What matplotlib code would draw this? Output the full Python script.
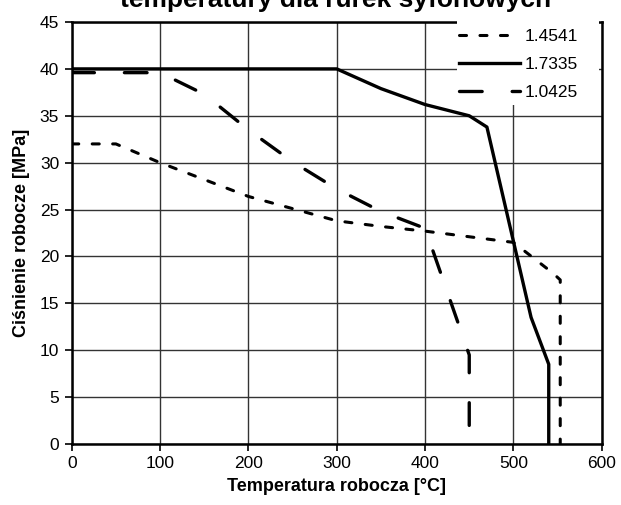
import matplotlib
matplotlib.use("Agg")
import matplotlib.pyplot as plt
from matplotlib.patches import Rectangle

plt.rcParams['font.family'] = ['Liberation Sans', 'DejaVu Sans']

# Data
temp_14541 = [0, 50, 100, 150, 200, 250, 300, 350, 400, 450, 500, 545, 553, 553]
p_14541 = [32, 32, 30, 28.2, 26.4, 25.1, 23.8, 23.2, 22.7, 22.1, 21.5, 18.2, 17.5, 0]

temp_17335 = [0, 300, 350, 400, 450, 470, 520, 540, 540]
p_17335 = [40, 40, 37.9, 36.2, 35, 33.8, 13.5, 8.5, 0]

temp_10425 = [0, 100, 150, 200, 250, 300, 350, 400, 450, 450]
p_10425 = [39.6, 39.6, 37.3, 33.5, 30.1, 27.2, 24.8, 23, 9.5, 0]

x_ticks = [0, 100, 200, 300, 400, 500, 600]
y_ticks = [0, 5, 10, 15, 20, 25, 30, 35, 40, 45]

fig = plt.figure(figsize=(6.21, 5.05), dpi=100)
ax = fig.add_axes([0.1155, 0.1208, 0.8535, 0.8356])

lw = 2.2
ax.plot(temp_14541, p_14541, color='black', lw=lw, dashes=(2.3, 4.4),
        dash_capstyle='round', label='1.4541')
ax.plot(temp_17335, p_17335, color='black', lw=lw + 0.2, label='1.7335')
ax.plot(temp_10425, p_10425, color='black', lw=lw + 0.2, dashes=(6.8, 9.0),
        dash_capstyle='round', label='1.0425')

ax.set_xlim(0, 600)
ax.set_ylim(0, 45)
ax.set_xticks(x_ticks)
ax.set_yticks(y_ticks)
ax.tick_params(direction='out', length=5, width=1.2, labelsize=12.5, pad=4)
ax.grid(True, color='#333333', lw=1.0)
ax.set_axisbelow(True)
for s in ax.spines.values():
    s.set_linewidth(1.8)

ax.set_xlabel('Temperatura robocza [°C]', fontsize=13, fontweight='bold', labelpad=5)
ax.set_ylabel('Ciśnienie robocze [MPa]', fontsize=13, fontweight='bold', labelpad=7)

# white legend area sitting over grid and spines, like the original
ax.add_patch(Rectangle((0.727, 0.803), 0.268, 0.22, transform=ax.transAxes,
                       facecolor='white', edgecolor='none', zorder=9, clip_on=False))
leg = ax.legend(loc='upper left', bbox_to_anchor=(0.7308, 0.984), borderaxespad=0,
                frameon=False, fontsize=12.5, handlelength=3.5, handletextpad=0.25,
                labelspacing=0.74, borderpad=0)
leg.set_zorder(10)

fig.text(0.541, 1 - 7.5 / 505, 'temperatury dla rurek syfonowych', ha='center',
         va='baseline', fontsize=19, fontweight='bold')

fig.savefig('out.png', dpi=100)
